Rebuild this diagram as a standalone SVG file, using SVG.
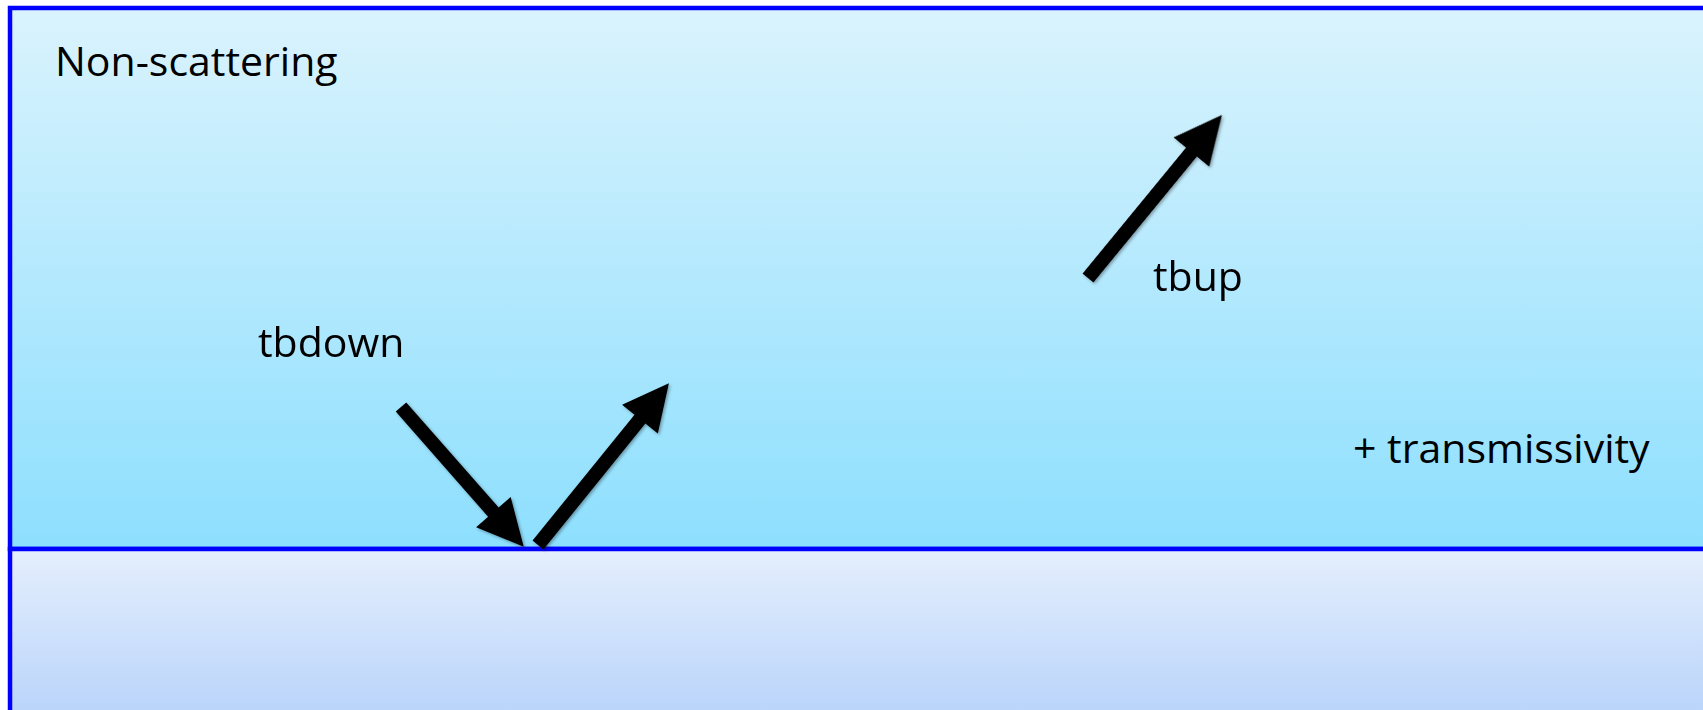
<svg xmlns="http://www.w3.org/2000/svg" width="1703" height="710" viewBox="0 0 1703 710">
<style>
.lbl{font-family:"Open Sans","Liberation Sans",sans-serif;font-size:41px;fill:#000}
.arr{fill:#000}
.band{stroke:#0000ff;stroke-width:4.5}
</style>
<defs>
<linearGradient id="gTop" x1="0" y1="0" x2="0" y2="1">
<stop offset="0" stop-color="#daf3fd"/>
<stop offset="1" stop-color="#8ddffe"/>
</linearGradient>
<linearGradient id="gBot" x1="0" y1="0" x2="0" y2="1">
<stop offset="0" stop-color="#e5effd"/>
<stop offset="1" stop-color="#b0cefa"/>
</linearGradient>
<filter id="sh" x="-20%" y="-20%" width="140%" height="140%">
<feDropShadow dx="1.5" dy="1.5" stdDeviation="1.5" flood-color="#000" flood-opacity="0.35"/>
</filter>
</defs>
<rect width="1703" height="710" fill="#ffffff"/>
<g id="atmosphere">
<rect class="band" x="10" y="8" width="1800" height="541" fill="url(#gTop)"/>
<text class="lbl" x="55" y="76">Non-scattering</text>
<text class="lbl" x="1353" y="463">+ transmissivity</text>
</g>
<g id="surface">
<rect class="band" x="10" y="549" width="1800" height="200" fill="url(#gBot)"/>
</g>
<g id="connectors" filter="url(#sh)">
<path id="arrow-down" class="arr" transform="translate(401,407) rotate(48.7)" d="M0,-7 L140,-7 L140,-23 L186,0 L140,23 L140,7 L0,7 Z"/>
<path id="arrow-reflect" class="arr" transform="translate(538,545) rotate(-51)" d="M0,-7 L162,-7 L162,-23 L208,0 L162,23 L162,7 L0,7 Z"/>
<path id="arrow-up" class="arr" transform="translate(1088,278) rotate(-50.6)" d="M0,-7 L163,-7 L163,-23 L211,0 L163,23 L163,7 L0,7 Z"/>
</g>
<g id="labels">
<text class="lbl" x="258" y="357">tbdown</text>
<text class="lbl" x="1153" y="291">tbup</text>
</g>
</svg>
